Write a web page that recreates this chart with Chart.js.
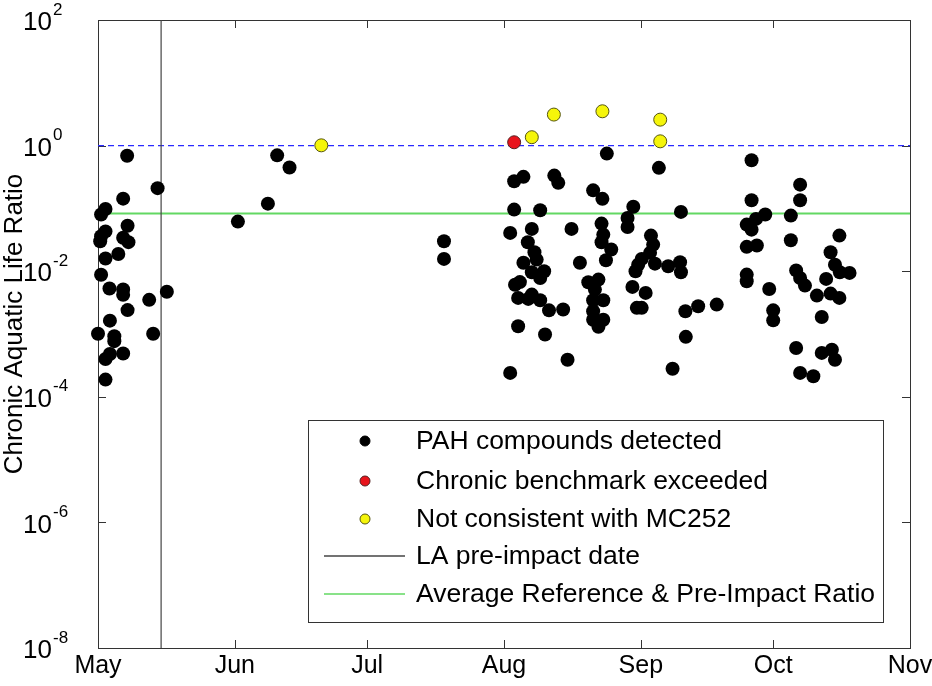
<!DOCTYPE html>
<html>
<head>
<meta charset="utf-8">
<script src="https://cdn.jsdelivr.net/npm/chart.js@4"></script>
<style>
  body { margin: 0; background: #fff; }
  #wrap { width: 932px; height: 686px; position: relative; }
</style>
</head>
<body>
<div id="wrap"><canvas id="myChart"></canvas></div>
<script>
// Months (days counted from May 1)
const monthLabels = ['May', 'Jun', 'Jul', 'Aug', 'Sep', 'Oct', 'Nov'];
const monthStarts = [0, 31, 61, 92, 123, 153, 184];
const yTickExponents = [2, 0, -2, -4, -6, -8];

// PAH compounds detected (black)
const pahDays = [
  6.6, 13.5, 5.7, 1.7, 0.7, 6.7, 1.7, 0.7, 0.5, 5.7, 6.9, 4.6, 1.7, 0.7, 2.6, 5.7, 5.7, 15.6, 11.6, 6.7,
  2.7, 0.0, 12.5, 3.7, 3.7, 2.7, 5.7, 1.7, 1.7,
  40.6, 43.4, 38.5, 31.7,
  78.4, 78.4,
  94.3, 96.4, 103.4, 104.3, 94.3, 100.2, 93.4, 98.3, 107.3, 97.4, 98.9, 99.4, 96.4, 109.2, 98.3, 101.1,
  100.2, 94.5, 95.6, 95.2, 97.5, 98.3, 100.2, 102.2, 105.4, 95.2, 101.3, 106.4, 93.4,
  115.3, 127.1, 112.2, 114.3, 121.3, 120.0, 120.0, 114.1, 114.5, 114.1, 116.3, 115.1, 125.3, 125.8, 125.1,
  126.2, 123.2, 122.4, 121.8, 111.1, 113.4, 112.6, 112.2, 114.5, 112.2, 112.2, 114.5, 113.4, 121.1, 124.1,
  122.1, 123.2, 132.1, 129.2, 131.9, 132.1, 133.1, 136.0, 140.2, 133.2, 130.2,
  148.1, 148.1, 149.1, 151.2, 147.0, 148.1, 147.0, 149.3, 147.0, 147.0, 152.1, 153.0, 153.0, 157.0, 157.0,
  159.1, 159.1, 158.2, 159.1, 160.2, 162.9, 164.0, 165.0, 166.0, 168.0, 168.0, 166.0, 167.0, 168.1, 170.3,
  158.2, 164.0, 166.3, 167.0, 159.1, 162.1
];
const pahRatios = [
  0.69, 0.21, 0.143, 0.098, 0.080, 0.053, 0.043, 0.036, 0.030, 0.034, 0.029, 0.0188, 0.0159, 0.0088, 0.0053, 0.0051, 0.0042, 0.0047, 0.0035, 0.0024,
  0.00163, 0.00101, 0.00101, 0.00092, 0.00077, 0.00048, 0.00049, 0.00040, 0.000188,
  0.70, 0.447, 0.119, 0.0616,
  0.030, 0.0157,
  0.270, 0.318, 0.333, 0.255, 0.0957, 0.0933, 0.0407, 0.0472, 0.0472, 0.0289, 0.0200, 0.0153, 0.0136, 0.0136, 0.0096, 0.0100,
  0.0078, 0.0061, 0.0067, 0.00376, 0.00362, 0.00424, 0.00344, 0.00238, 0.00245, 0.00133, 0.00098, 0.00039, 0.00024,
  0.746, 0.442, 0.194, 0.142, 0.106, 0.0706, 0.0507, 0.0573, 0.0383, 0.0289, 0.0221, 0.0149, 0.0369, 0.0265, 0.0196,
  0.0132, 0.0157, 0.0127, 0.0100, 0.00666, 0.00735, 0.00509, 0.00344, 0.00344, 0.00230, 0.00169, 0.00169, 0.00130, 0.00562, 0.00451,
  0.00261, 0.00261, 0.0880, 0.0120, 0.0139, 0.0096, 0.00230, 0.00276, 0.00294, 0.00090, 0.00028,
  0.583, 0.135, 0.068, 0.080, 0.0552, 0.0459, 0.0244, 0.0256, 0.00883, 0.0069, 0.00522, 0.00238, 0.00165, 0.0768, 0.0311,
  0.239, 0.135, 0.0103, 0.0078, 0.0059, 0.00409, 0.00187, 0.00754, 0.00440, 0.00376, 0.0369, 0.0200, 0.0127, 0.0096, 0.0094,
  0.00060, 0.00050, 0.00056, 0.00039, 0.00024, 0.000212
];

// Chronic benchmark exceeded (red)
const exceedDays = [94.3];
const exceedRatios = [1.13];

// Not consistent with MC252 (yellow)
const inconsistentDays = [50.6, 98.3, 103.3, 114.3, 127.4, 127.4];
const inconsistentRatios = [1.01, 1.36, 3.12, 3.52, 2.59, 1.17];

// Reference lines
const preImpactDay = 14.3;
const benchmarkRatio = 1;
const referenceRatio = 0.083;

const legendLabels = [
  'PAH compounds detected',
  'Chronic benchmark exceeded',
  'Not consistent with MC252',
  'LA pre-impact date',
  'Average Reference & Pre-Impact Ratio'
];

function toPoints(xs, ys) {
  return xs.map((x, i) => ({ x: x, y: ys[i] }));
}

const FONT = '"Liberation Sans", Arial, sans-serif';
const AXIS_COLOR = '#333';
const GREEN = '#62d862';
const BLUE = '#2a2aff';

// Оси в стиле MATLAB: рамка, тики внутрь, подписи 10^n
const axesPlugin = {
  id: 'matlabAxes',
  beforeDatasetsDraw(chart) {
    const { ctx, chartArea: a, scales } = chart;
    const xs = scales.x, ys = scales.y;
    ctx.save();
    ctx.strokeStyle = AXIS_COLOR;
    ctx.lineWidth = 1;
    ctx.strokeRect(a.left + 0.5, a.top + 0.5, a.right - a.left, a.bottom - a.top);

    ctx.beginPath();
    monthStarts.forEach(d => {
      const px = Math.round(xs.getPixelForValue(d)) + 0.5;
      ctx.moveTo(px, a.bottom); ctx.lineTo(px, a.bottom - 8);
      ctx.moveTo(px, a.top); ctx.lineTo(px, a.top + 8);
    });
    yTickExponents.forEach(e => {
      const py = Math.round(ys.getPixelForValue(Math.pow(10, e))) + 0.5;
      ctx.moveTo(a.left, py); ctx.lineTo(a.left + 8, py);
      ctx.moveTo(a.right, py); ctx.lineTo(a.right - 8, py);
    });
    ctx.stroke();

    ctx.fillStyle = '#000';
    ctx.font = '25px ' + FONT;
    ctx.textAlign = 'center';
    ctx.textBaseline = 'top';
    monthStarts.forEach((d, i) => {
      ctx.fillText(monthLabels[i], xs.getPixelForValue(d), a.bottom + 6);
    });

    yTickExponents.forEach(e => {
      const py = ys.getPixelForValue(Math.pow(10, e));
      ctx.font = '26px ' + FONT;
      ctx.textAlign = 'right';
      ctx.textBaseline = 'middle';
      ctx.fillText('10', 52, py + 3);
      ctx.font = '17px ' + FONT;
      ctx.textAlign = 'left';
      ctx.fillText(String(e), 53, py - 10);
    });

    ctx.translate(15, (a.top + a.bottom) / 2 - 10);
    ctx.rotate(-Math.PI / 2);
    ctx.font = '26px ' + FONT;
    ctx.textAlign = 'center';
    ctx.textBaseline = 'middle';
    ctx.fillText('Chronic Aquatic Life Ratio', 0, 0);
    ctx.restore();
  }
};

// Легенда внутри области графика (справа снизу)
const legendPlugin = {
  id: 'insideLegend',
  afterDatasetsDraw(chart) {
    const ctx = chart.ctx;
    const box = { left: 308, top: 420, right: 883, bottom: 622 };
    const rows = [441, 481, 519, 556, 594];
    ctx.save();
    ctx.fillStyle = '#fff';
    ctx.fillRect(box.left, box.top, box.right - box.left, box.bottom - box.top);
    ctx.strokeStyle = AXIS_COLOR;
    ctx.lineWidth = 1;
    ctx.strokeRect(box.left + 0.5, box.top + 0.5, box.right - box.left, box.bottom - box.top);

    const dots = [['#000', '#000'], ['#e8141c', '#552222'], ['#f5f50a', '#555511']];
    dots.forEach((c, i) => {
      ctx.beginPath();
      ctx.arc(365, rows[i], 5, 0, Math.PI * 2);
      ctx.fillStyle = c[0];
      ctx.fill();
      ctx.strokeStyle = c[1];
      ctx.stroke();
    });
    ctx.lineWidth = 1.5;
    ctx.strokeStyle = '#444';
    ctx.beginPath(); ctx.moveTo(324, rows[3]); ctx.lineTo(405, rows[3]); ctx.stroke();
    ctx.strokeStyle = GREEN;
    ctx.beginPath(); ctx.moveTo(324, rows[4]); ctx.lineTo(405, rows[4]); ctx.stroke();

    ctx.fillStyle = '#000';
    ctx.font = '26.5px ' + FONT;
    ctx.textAlign = 'left';
    ctx.textBaseline = 'middle';
    legendLabels.forEach((t, i) => ctx.fillText(t, 416, rows[i] + 1));
    ctx.restore();
  }
};

const ctx = document.getElementById('myChart').getContext('2d');
const chart = new Chart(ctx, {
  type: 'scatter',
  data: {
    datasets: [
      {
        label: legendLabels[2],
        data: toPoints(inconsistentDays, inconsistentRatios),
        backgroundColor: '#f5f50a',
        borderColor: '#555511',
        borderWidth: 1,
        pointRadius: 6.5,
        clip: false,
        order: 1
      },
      {
        label: legendLabels[1],
        data: toPoints(exceedDays, exceedRatios),
        backgroundColor: '#e8141c',
        borderColor: '#552222',
        borderWidth: 1,
        pointRadius: 6.5,
        clip: false,
        order: 1
      },
      {
        label: legendLabels[0],
        data: toPoints(pahDays, pahRatios),
        backgroundColor: '#000',
        borderColor: '#000',
        borderWidth: 0,
        pointRadius: 7,
        clip: false,
        order: 2
      },
      {
        label: legendLabels[3],
        data: [{ x: preImpactDay, y: 1e-8 }, { x: preImpactDay, y: 1e2 }],
        showLine: true,
        borderColor: '#444',
        borderWidth: 1.2,
        pointRadius: 0,
        order: 3
      },
      {
        label: legendLabels[4],
        data: [{ x: monthStarts[0], y: referenceRatio }, { x: monthStarts[6], y: referenceRatio }],
        showLine: true,
        borderColor: GREEN,
        borderWidth: 1.8,
        pointRadius: 0,
        order: 3
      },
      {
        label: 'Chronic benchmark',
        data: [{ x: monthStarts[0], y: benchmarkRatio }, { x: monthStarts[6], y: benchmarkRatio }],
        showLine: true,
        borderColor: BLUE,
        borderWidth: 1.4,
        borderDash: [6, 4],
        pointRadius: 0,
        order: 3
      }
    ]
  },
  options: {
    responsive: true,
    maintainAspectRatio: false,
    animation: false,
    layout: { padding: { left: 98, right: 22, top: 20, bottom: 38 } },
    plugins: {
      legend: { display: false },
      tooltip: { enabled: false }
    },
    scales: {
      x: {
        type: 'linear',
        display: false,
        min: monthStarts[0],
        max: monthStarts[6]
      },
      y: {
        type: 'logarithmic',
        display: false,
        min: 1e-8,
        max: 1e2
      }
    }
  },
  plugins: [axesPlugin, legendPlugin]
});
</script>
</body>
</html>
